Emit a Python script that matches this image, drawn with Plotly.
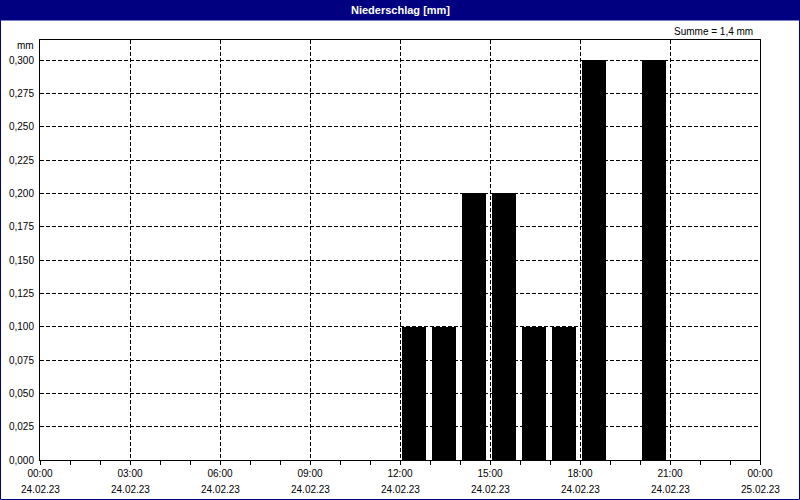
import plotly.graph_objects as go
import pandas as pd

# Data
bar_hours = ["2023-02-24 12:00", "2023-02-24 13:00", "2023-02-24 14:00", "2023-02-24 15:00",
             "2023-02-24 16:00", "2023-02-24 17:00", "2023-02-24 18:00", "2023-02-24 19:00",
             "2023-02-24 20:00"]
precip_mm = [0.1, 0.1, 0.2, 0.2, 0.1, 0.1, 0.3, 0.0, 0.3]
x_ticks = pd.date_range("2023-02-24 00:00", "2023-02-25 00:00", freq="3h")
y_ticks = [i * 0.025 for i in range(13)]
title_text = "Niederschlag [mm]"
sum_text = "Summe = 1,4 mm"
unit_text = "mm"

NAVY = "#000080"
FONT = "Liberation Sans"
FS = 10

W, H = 800, 500
ML, MR, MT, MB = 40, 40, 40, 40
PW, PH = W - ML - MR, H - MT - MB

def px_x(p):
    return (p - ML) / PW

def px_y(p):
    return (H - MB - p) / PH

HOUR_MS = 3600 * 1000

fig = go.Figure()
fig.add_trace(go.Bar(
    x=pd.to_datetime(bar_hours), y=precip_mm,
    offset=0.05 * HOUR_MS, width=0.833 * HOUR_MS,
    marker=dict(color="#000000", line=dict(width=0)),
    hoverinfo="skip",
))

x_ticktext = [f"{t:%H:%M}" for t in x_ticks]
y_ticktext = [f"{v:.3f}".replace(".", ",") for v in y_ticks]

date_annotations = [
    dict(text=f"{t:%d.%m.%y}", xref="x", yref="paper", x=t, y=px_y(489),
         xanchor="center", yanchor="middle", showarrow=False,
         font=dict(size=FS, family=FONT))
    for t in x_ticks
]

fig.update_layout(
    width=W, height=H,
    margin=dict(l=ML, r=MR, t=MT, b=MB, pad=0, autoexpand=False),
    paper_bgcolor="white", plot_bgcolor="white",
    font=dict(family=FONT, size=FS, color="black"),
    showlegend=False,
    bargap=0,
    xaxis=dict(
        type="date", automargin=False,
        range=[x_ticks[0], x_ticks[-1]],
        tickvals=list(x_ticks), ticktext=x_ticktext,
        ticks="outside", ticklen=4, tickcolor="black", tickwidth=1,
        ticklabelstandoff=0,
        minor=dict(dtick=HOUR_MS, ticks="outside", ticklen=4, tickcolor="black", showgrid=False),
        showgrid=True, gridcolor="black", gridwidth=1, griddash="4px,2px",
        showline=True, linecolor="black", linewidth=1, mirror=True,
        zeroline=False, tickfont=dict(size=FS, family=FONT),
        fixedrange=True,
    ),
    yaxis=dict(
        automargin=False,
        range=[0, 0.315],
        tickvals=y_ticks, ticktext=y_ticktext,
        ticks="", ticklabelstandoff=3,
        showgrid=True, gridcolor="black", gridwidth=1, griddash="4px,2px",
        showline=True, linecolor="black", linewidth=1, mirror=True,
        zeroline=False, tickfont=dict(size=FS, family=FONT),
        fixedrange=True,
    ),
    shapes=[
        dict(type="rect", xref="paper", yref="paper",
             x0=px_x(0), x1=px_x(W), y0=px_y(20.5), y1=px_y(0),
             fillcolor=NAVY, line=dict(width=0), layer="above"),
        dict(type="rect", xref="paper", yref="paper",
             x0=px_x(0.5), x1=px_x(W - 0.5), y0=px_y(H - 0.5), y1=px_y(0.5),
             fillcolor="rgba(0,0,0,0)", line=dict(color=NAVY, width=1), layer="above"),
    ],
    annotations=[
        dict(text=f"<b>{title_text}</b>", xref="paper", yref="paper",
             x=0.5, y=px_y(10), xanchor="center", yanchor="middle",
             showarrow=False, font=dict(color="white", size=11, family=FONT)),
        dict(text=sum_text, xref="paper", yref="paper",
             x=px_x(755), y=px_y(31), xanchor="right", yanchor="middle",
             showarrow=False, font=dict(size=FS, family=FONT)),
        dict(text=unit_text, xref="paper", yref="paper",
             x=px_x(36), y=px_y(45.5), xanchor="right", yanchor="middle",
             showarrow=False, font=dict(size=FS, family=FONT)),
    ] + date_annotations,
)

fig.write_html("out.html", config={"displayModeBar": False},
               post_script="document.body.style.margin='0';")
